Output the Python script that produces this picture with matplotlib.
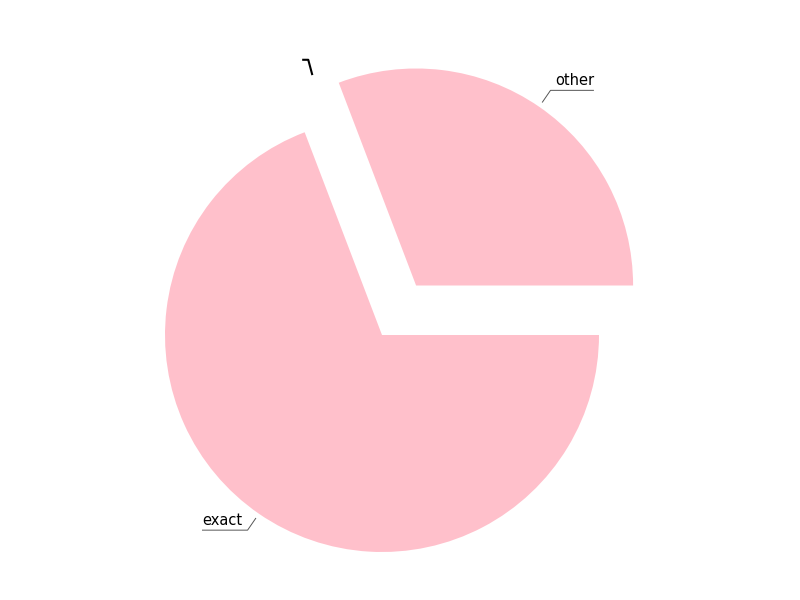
import numpy as np
import matplotlib.pyplot as plt

labels = ['other', '', 'exact']
values = [30.8, 0.0, 69.2]
explode = [0.277, 0.0, 0.0]


def draw_pie():
    fig = plt.figure(figsize=(8, 6), dpi=100)
    ax = fig.add_axes([0, 0, 1, 1])
    wedges, _ = ax.pie(values, explode=explode, colors=['pink'] * len(values),
                       startangle=0, counterclock=True, radius=1.0)

    # leader lines: anchor on the rim, elbow, then a short underline
    for w, lab in zip(wedges, labels):
        ang = (w.theta1 + w.theta2) / 2
        cx, cy = w.center
        if lab == '':
            # zero-size slice, drawn with a short dark tick
            ang, r1, r2, run, col, lw = 105.0, 1.24, 1.313, -0.028, 'black', 1.5
            cx, cy = 0, 0
        else:
            r1, r2, run, col, lw = 1.024, 1.092, 0.0, '#555555', 0.7
        a = np.deg2rad(ang)
        x1, y1 = cx + r1 * np.cos(a), cy + r1 * np.sin(a)
        x2, y2 = cx + r2 * np.cos(a), cy + r2 * np.sin(a)
        if lab:
            run = 0.2 if np.cos(a) > 0 else -0.21
        ax.plot([x1, x2, x2 + run], [y1, y2, y2], color=col, lw=lw,
                solid_capstyle='butt')
        if lab:
            if run > 0:
                ax.text(x2 + run, y2 + 0.01, lab, ha='right', va='bottom', fontsize=10.5)
            else:
                ax.text(x2 + run, y2 + 0.01, lab, ha='left', va='bottom', fontsize=10.5)

    r = 217
    ax.set_xlim(-382 / r, (800 - 382) / r)
    ax.set_ylim(-(600 - 335) / r, 335 / r)
    ax.set_aspect('equal')
    ax.axis('off')
    plt.savefig('out.png')


def main():
    draw_pie()


if __name__ == "__main__":
    main()
